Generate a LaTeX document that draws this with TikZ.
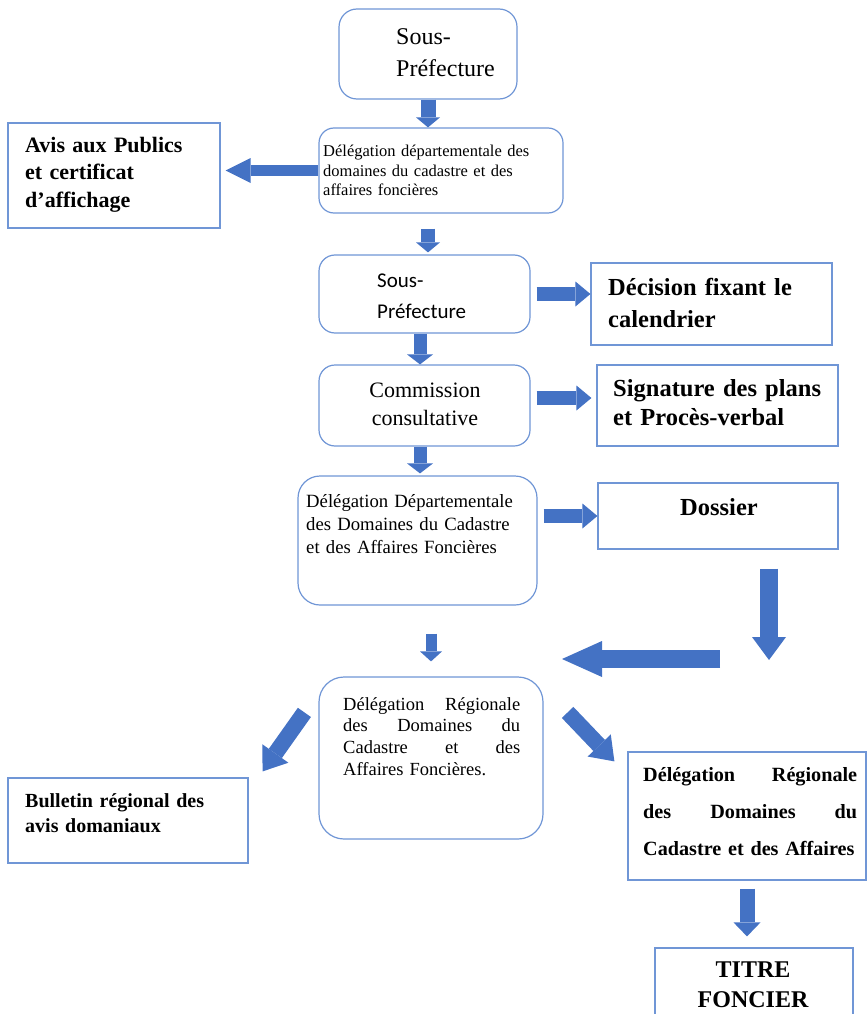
\documentclass[tikz,border=0pt]{standalone}
\usepackage{fontspec}
\setmainfont{Liberation Serif}
\newfontfamily\carl{Carlito}
\usetikzlibrary{arrows.meta,calc}
\definecolor{boxblue}{HTML}{7096D6}
\definecolor{arrblue}{HTML}{4472C4}
\tikzset{
  rbox/.style={draw=boxblue, line width=1.2pt, rounded corners=#1, fill=white},
  rbox/.default=16pt,
  sbox/.style={draw=boxblue, line width=1.2pt, fill=white},
  txt/.style={anchor=base west, inner sep=0pt, align=left},
  ctxt/.style={anchor=base, inner sep=0pt, align=center},
  blk/.style n args={3}{draw=arrblue, line width=#1, -{Triangle[length=#2,width=#3,line width=0pt]}}
}
\begin{document}
\begin{tikzpicture}[x=1pt,y=-1pt]
\useasboundingbox (0,0) rectangle (867,1014);
\clip (0,0) rectangle (867,1014);

% boxes
\node[rbox=18pt, minimum width=178pt, minimum height=90pt] (b1) at (428,54) {};
\node[rbox=15pt, minimum width=244pt, minimum height=85pt] (b2) at (441,170.5) {};
\node[sbox, minimum width=212pt, minimum height=105pt] (avis) at (114,175.5) {};
\node[rbox=16pt, minimum width=211pt, minimum height=78pt] (b3) at (424.5,294) {};
\node[sbox, minimum width=241pt, minimum height=82pt] (dec) at (711.5,304) {};
\node[rbox=16pt, minimum width=211pt, minimum height=81pt] (b4) at (424.5,405.5) {};
\node[sbox, minimum width=241pt, minimum height=81pt] (sig) at (717.5,405.5) {};
\node[rbox=22pt, minimum width=239pt, minimum height=129pt] (b5) at (417.5,540.5) {};
\node[sbox, minimum width=240pt, minimum height=66pt] (dos) at (718,516) {};
\node[rbox=25pt, minimum width=224pt, minimum height=162pt] (b6) at (431,758) {};
\node[sbox, minimum width=240pt, minimum height=85pt] (bul) at (128,820.5) {};
\node[sbox, minimum width=238pt, minimum height=128pt] (b7) at (747,816) {};
\node[sbox, minimum width=198pt, minimum height=82pt] (tit) at (754,989) {};

% texts
\node[txt, text width=150pt, font=\fontsize{24}{32}\selectfont] (t1) at (396,45) {Sous-\\Préfecture};
\node[txt, text width=238pt, font=\fontsize{16.5}{19.5}\selectfont] (t2) at (323,157) {Délégation départementale des\\domaines du cadastre et des\\affaires foncières};
\node[txt, text width=200pt, font=\fontsize{22}{27.5}\selectfont\bfseries] (tavis) at (25,152) {Avis aux Publics\\et certificat\\d’affichage};
\node[txt, text width=150pt, font=\fontsize{21}{31}\selectfont\carl] (t3) at (377,287) {Sous-\\Préfecture};
\node[txt, text width=220pt, font=\fontsize{24.5}{32}\selectfont\bfseries] (tdec) at (608,295) {Décision fixant le\\calendrier};
\node[ctxt, text width=200pt, font=\fontsize{22}{28}\selectfont] (t4) at (425,397) {Commission\\consultative};
\node[txt, text width=225pt, font=\fontsize{24.5}{29}\selectfont\bfseries] (tsig) at (613,396) {Signature des plans\\et Procès-verbal};
\node[txt, text width=230pt, font=\fontsize{18.7}{23}\selectfont] (t5) at (306,507) {Délégation Départementale\\des Domaines du Cadastre\\et des Affaires Foncières};
\node[ctxt, text width=230pt, font=\fontsize{24.5}{30}\selectfont\bfseries] (tdos) at (719,515) {Dossier};
\node[txt, text width=177pt, font=\fontsize{18.5}{21.8}\selectfont] (t6) at (343,710) {Délégation\hfill Régionale\\des\hfill Domaines\hfill du\\Cadastre\hfill et\hfill des\\Affaires Foncières.};
\node[txt, text width=220pt, font=\fontsize{20}{25}\selectfont\bfseries] (tbul) at (25,807) {Bulletin régional des\\avis domaniaux};
\node[txt, text width=214pt, font=\fontsize{20.2}{37}\selectfont\bfseries] (t7) at (643,781) {Délégation\hfill Régionale\\des\hfill Domaines\hfill du\\\mbox{Cadastre et des Affaires}};
\node[ctxt, text width=190pt, font=\fontsize{24}{30}\selectfont\bfseries] (ttit) at (753,977) {TITRE\\FONCIER};

% free ends
\coordinate (dd) at (769,660);
\coordinate (lt) at (720,659);
\coordinate (lh) at (562,659);

% arrows
\draw[blk={15pt}{10pt}{24pt}] (b1.south) -- (b1.south |- b2.north);
\draw[blk={11pt}{25pt}{25pt}, shorten >=5pt] (b2.west) -- (b2.west -| avis.east);
\draw[blk={14pt}{10pt}{24pt}, shorten <=15pt, shorten >=2pt] (b2.south -| b1.south) -- (b3.north -| b1.south);
\draw[blk={14pt}{15pt}{25pt}, shorten <=6pt] (b3.east) -- (b3.east -| dec.west);
\draw[blk={13pt}{10pt}{26pt}] ([xshift=-4.5pt]b3.south) -- ([xshift=-4.5pt]b3.south |- b4.north);
\draw[blk={14pt}{15pt}{25pt}, shorten <=6pt, shorten >=5pt] ([yshift=7.5pt]b4.east) -- ([yshift=7.5pt]b4.east -| sig.west);
\draw[blk={13pt}{10pt}{26pt}, shorten >=2pt] ([xshift=-4.5pt]b4.south) -- ([xshift=-4.5pt]b4.south |- b5.north);
\draw[blk={14pt}{15pt}{25pt}, shorten <=6pt] (b5.east |- dos.west) -- (dos.west);
\draw[blk={18pt}{23pt}{34pt}, shorten <=19pt] ([xshift=51pt]dos.south) -- (dd);
\draw[blk={18pt}{40pt}{36pt}] (lt) -- (lh);
\draw[blk={11pt}{10pt}{22pt}, shorten <=28pt, shorten >=15pt] (b6.north |- b5.south) -- (b6.north);
\draw[blk={16pt}{22pt}{32pt}] ($(b6.north west)+(-14,36)$) -- ($(bul.north east)+(14,-6)$);
\draw[blk={16pt}{22pt}{32pt}] ($(b6.north east)+(24,36)$) -- ($(b7.north west)+(-13,10)$);
\draw[blk={15pt}{14pt}{27pt}, shorten <=8pt, shorten >=11pt] (b7.south) -- (b7.south |- tit.north);
\end{tikzpicture}
\end{document}
